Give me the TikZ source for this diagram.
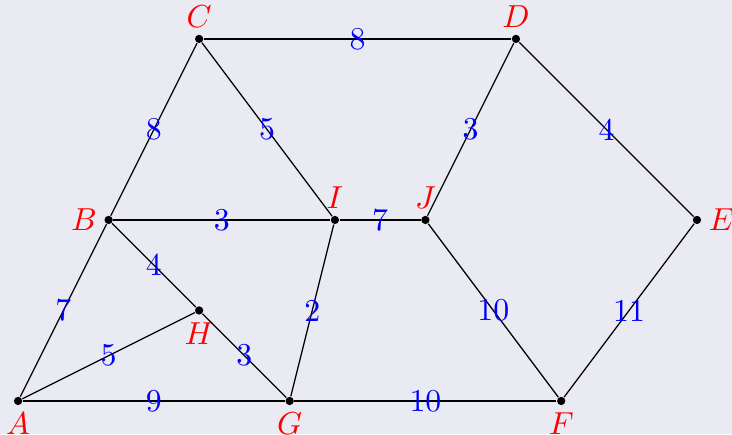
\documentclass[tikz,border=0pt]{standalone}
\usepackage{amsmath, amssymb}
\usepackage{tikz}

\definecolor{paneback}{HTML}{EAEAF2}

\begin{document}
\begin{tikzpicture}[
    vtx/.style={circle, fill=black, inner sep=0pt, minimum size=2.6pt},
    lbl/.style={red, label distance=-1.3pt},
    wt/.style={blue, midway}
  ]
  % Background
  \path[use as bounding box, fill=paneback] (-0.2,-0.365) rectangle (7.887,4.43);

  % Vertices
  \node[vtx, label={[lbl]below:$A$}] (A) at (0,0) {};
  \node[vtx, label={[lbl]left:$B$}]  (B) at (1,2) {};
  \node[vtx, label={[lbl]above:$C$}] (C) at (2,4) {};
  \node[vtx, label={[lbl]above:$D$}] (D) at (5.5,4) {};
  \node[vtx, label={[lbl]right:$E$}] (E) at (7.5,2) {};
  \node[vtx, label={[lbl]below:$F$}] (F) at (6,0) {};
  \node[vtx, label={[lbl]below:$G$}] (G) at (3,0) {};
  \node[vtx, label={[lbl]below:$H$}] (H) at (2,1) {};
  \node[vtx, label={[lbl]above:$I$}] (I) at (3.5,2) {};
  \node[vtx, label={[lbl]above:$J$}] (J) at (4.5,2) {};

  % Edges with weights
  \draw (C) -- node[wt] {8} (D);
  \draw (B) -- node[wt] {8} (C);
  \draw (C) -- node[wt] {5} (I);
  \draw (D) -- node[wt] {3} (J);
  \draw (D) -- node[wt] {4} (E);
  \draw (B) -- node[wt] {3} (I);
  \draw (I) -- node[wt] {7} (J);
  \draw (B) -- node[wt] {4} (H);
  \draw (A) -- node[wt] {7} (B);
  \draw (A) -- node[wt] {5} (H);
  \draw (H) -- node[wt] {3} (G);
  \draw (G) -- node[wt] {2} (I);
  \draw (J) -- node[wt] {10} (F);
  \draw (E) -- node[wt] {11} (F);
  \draw (A) -- node[wt] {9} (G);
  \draw (G) -- node[wt] {10} (F);
\end{tikzpicture}
\end{document}
